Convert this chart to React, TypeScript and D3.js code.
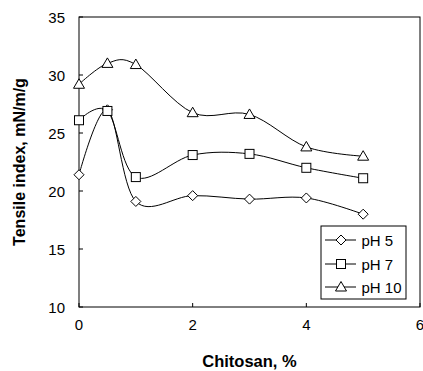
import React from "react";
import * as d3 from "d3";

const chitosan = [0, 0.5, 1, 2, 3, 4, 5];
const ph5 = [21.4, 27.0, 19.1, 19.6, 19.3, 19.4, 18.0];
const ph7 = [26.1, 26.9, 21.2, 23.1, 23.2, 22.0, 21.1];
const ph10 = [29.2, 31.0, 30.9, 26.75, 26.6, 23.8, 23.0];
const seriesNames = ["pH 5", "pH 7", "pH 10"];
const markers = ["diamond", "square", "triangle"];
const xTicks = [0, 2, 4, 6];
const yTicks = [10, 15, 20, 25, 30, 35];

const W = 423, H = 371;
const L = 79, R = 420, T = 17, B = 307;
const FONT = "'Liberation Sans', Arial, sans-serif";

function Marker({ type, x, y }: { type: string; x: number; y: number }) {
  const s = { fill: "#fff", stroke: "#000", strokeWidth: 1 };
  if (type === "diamond") {
    const r = 5;
    return <path d={`M${x},${y - r}L${x + r},${y}L${x},${y + r}L${x - r},${y}Z`} {...s} />;
  }
  if (type === "square") {
    const r = 4.5;
    return <rect x={x - r} y={y - r} width={2 * r} height={2 * r} {...s} />;
  }
  const r = 5.5;
  return <path d={`M${x},${y - r}L${x + r},${y + 4}L${x - r},${y + 4}Z`} {...s} />;
}

export default function App() {
  const x = d3.scaleLinear().domain([0, 6]).range([L, R]);
  const y = d3.scaleLinear().domain([10, 35]).range([B, T]);
  const data = [ph5, ph7, ph10];
  const line = d3
    .line<[number, number]>()
    .x((d) => x(d[0]))
    .y((d) => y(d[1]))
    .curve(d3.curveCardinal.tension(0));

  const legX = 321, legY = 226, legW = 85, legH = 73;
  const legRows = [240, 264, 287];

  return (
    <svg width={W} height={H} style={{ position: "absolute", left: 0, top: 0 }}>
      <rect x={0} y={0} width={W} height={H} fill="#fff" />
      <rect x={L} y={T} width={R - L} height={B - T} fill="none" stroke="#000" strokeWidth={1} />
      {yTicks.map((t) => (
        <g key={"y" + t}>
          <line x1={L} x2={L + 4} y1={y(t)} y2={y(t)} stroke="#000" />
          <text x={65} y={y(t) + 5.5} textAnchor="end" fontFamily={FONT} fontSize={15}>
            {t}
          </text>
        </g>
      ))}
      {xTicks.map((t) => (
        <g key={"x" + t}>
          <line x1={x(t)} x2={x(t)} y1={B} y2={B - 4} stroke="#000" />
          <text x={x(t)} y={329.5} textAnchor="middle" fontFamily={FONT} fontSize={15}>
            {t}
          </text>
        </g>
      ))}
      {data.map((vals, i) => (
        <path
          key={"l" + i}
          d={line(chitosan.map((c, j) => [c, vals[j]] as [number, number])) || ""}
          fill="none"
          stroke="#000"
          strokeWidth={1}
        />
      ))}
      {data.map((vals, i) =>
        vals.map((v, j) => <Marker key={`m${i}-${j}`} type={markers[i]} x={x(chitosan[j])} y={y(v)} />)
      )}
      <rect x={legX} y={legY} width={legW} height={legH} fill="#fff" stroke="#000" strokeWidth={1} />
      {seriesNames.map((n, i) => (
        <g key={"lg" + i}>
          <line x1={325} x2={356} y1={legRows[i]} y2={legRows[i]} stroke="#000" />
          <Marker type={markers[i]} x={341} y={legRows[i]} />
          <text x={361.5} y={legRows[i] + 5.5} fontFamily={FONT} fontSize={15}>
            {n}
          </text>
        </g>
      ))}
      <text x={(L + R) / 2} y={367} textAnchor="middle" fontFamily={FONT} fontSize={16.5} fontWeight="bold">
        Chitosan, %
      </text>
      <text
        transform={`translate(25,${(T + B) / 2}) rotate(-90)`}
        textAnchor="middle"
        fontFamily={FONT}
        fontSize={16}
        fontWeight="bold"
      >
        Tensile index, mN/m/g
      </text>
    </svg>
  );
}
